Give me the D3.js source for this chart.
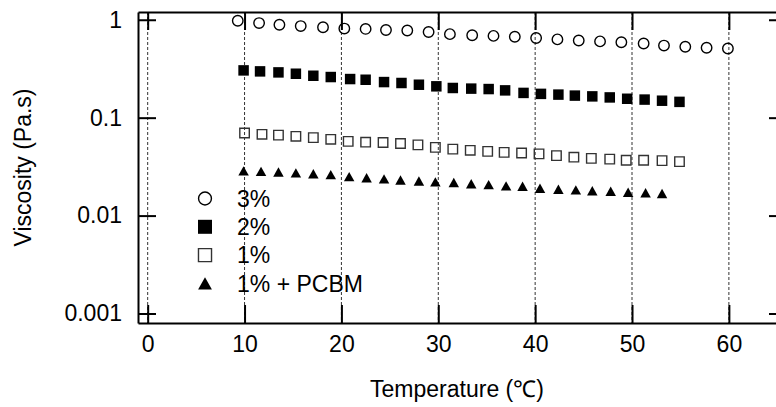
<!DOCTYPE html>
<html>
<head>
<meta charset="utf-8">
<script src="https://cdn.jsdelivr.net/npm/d3@7"></script>
<style>
  html, body { margin: 0; padding: 0; background: #fff; }
  svg { display: block; }
  text { font-family: "Liberation Sans", Arial, Helvetica, sans-serif; fill: #000; }
</style>
</head>
<body>
<svg id="chart" width="776" height="407"></svg>
<script>
// Viscosity vs temperature for different concentrations
const seriesNames = ["3%", "2%", "1%", "1% + PCBM"];

const temp3 = [9.3, 11.5, 13.6, 15.8, 18.1, 20.3, 22.5, 24.6, 26.8, 29.0, 31.2, 33.5,
               35.7, 37.9, 40.1, 42.3, 44.5, 46.7, 48.9, 51.2, 53.3, 55.5, 57.7, 59.9];
const visc3 = [0.977, 0.925, 0.889, 0.862, 0.839, 0.813, 0.806, 0.785, 0.776, 0.749, 0.713, 0.695,
               0.684, 0.671, 0.651, 0.630, 0.614, 0.601, 0.589, 0.572, 0.545, 0.530, 0.518, 0.509];

const temp2 = [9.9, 11.6, 13.5, 15.3, 17.1, 18.9, 20.9, 22.5, 24.4, 26.2, 28.0, 29.8, 31.5,
               33.4, 35.2, 36.9, 38.8, 40.6, 42.4, 44.1, 45.9, 47.7, 49.5, 51.3, 53.1, 54.9];
const visc2 = [0.304, 0.297, 0.290, 0.281, 0.268, 0.260, 0.248, 0.244, 0.231, 0.226, 0.217, 0.209, 0.201,
               0.198, 0.196, 0.190, 0.179, 0.175, 0.172, 0.168, 0.165, 0.161, 0.156, 0.153, 0.149, 0.145];

const temp1 = [10.0, 11.8, 13.5, 15.3, 17.1, 18.9, 20.7, 22.5, 24.3, 26.1, 27.9, 29.7, 31.5,
               33.3, 35.1, 36.8, 38.6, 40.4, 42.2, 44.0, 45.8, 47.7, 49.4, 51.2, 53.1, 54.9];
const visc1 = [0.0698, 0.0676, 0.0663, 0.0645, 0.0625, 0.0601, 0.0573, 0.0562, 0.0558, 0.0545, 0.0528, 0.0497, 0.0477,
               0.0464, 0.0453, 0.0442, 0.0436, 0.0427, 0.0410, 0.0395, 0.0384, 0.0377, 0.0368, 0.0368, 0.0364, 0.0356];

const tempP = [9.9, 11.7, 13.5, 15.3, 17.1, 18.9, 20.8, 22.6, 24.4, 26.1, 28.0, 29.7, 31.6,
               33.4, 35.2, 37.0, 38.7, 40.5, 42.4, 44.2, 45.9, 47.8, 49.6, 51.4, 53.1];
const viscP = [0.0286, 0.0283, 0.0279, 0.0273, 0.0268, 0.0262, 0.0250, 0.0244, 0.0237, 0.0231, 0.0226, 0.0221, 0.0218,
               0.0211, 0.0207, 0.0201, 0.0199, 0.0190, 0.0186, 0.0183, 0.0179, 0.0177, 0.0173, 0.0171, 0.0168];

const xTicks = [0, 10, 20, 30, 40, 50, 60];
const yTicks = [0.001, 0.01, 0.1, 1];
const yTickLabels = ["0.001", "0.01", "0.1", "1"];

const svg = d3.select("#chart");
const plotLeft = 138, plotTop = 12, plotBottom = 323, plotRight = 787;
const tickLen = 18;
const fontSize = 23;

const x = d3.scaleLinear().domain([-1, 66]).range([plotLeft, plotRight]);
const y = d3.scaleLog().domain([0.0008, 1.2]).range([plotBottom, plotTop]);

// dashed vertical grid
svg.append("g").selectAll("line").data(xTicks).join("line")
  .attr("x1", d => x(d)).attr("x2", d => x(d))
  .attr("y1", plotTop).attr("y2", plotBottom)
  .attr("stroke", "#333").attr("stroke-width", 1)
  .attr("stroke-dasharray", "3,2");

// axes with inward ticks
function styleAxis(g) {
  g.select(".domain").attr("stroke", "#000").attr("stroke-width", 2);
  g.selectAll(".tick line").attr("stroke", "#000").attr("stroke-width", 2);
  g.selectAll("text").attr("font-size", fontSize).attr("font-family", "Liberation Sans, Arial, sans-serif").attr("fill", "#000");
}

svg.append("g").attr("transform", `translate(0,${plotBottom})`)
  .call(d3.axisBottom(x).tickValues(xTicks).tickSizeInner(-tickLen).tickSizeOuter(0).tickPadding(13))
  .call(styleAxis);

svg.append("g").attr("transform", `translate(0,${plotTop})`)
  .call(d3.axisTop(x).tickValues(xTicks).tickSizeInner(-tickLen).tickSizeOuter(0).tickFormat(""))
  .call(styleAxis);

svg.append("g").attr("transform", `translate(${plotLeft},0)`)
  .call(d3.axisLeft(y).tickValues(yTicks).tickFormat((d, i) => yTickLabels[i])
        .tickSizeInner(-tickLen).tickSizeOuter(0).tickPadding(16))
  .call(styleAxis);

svg.append("g").attr("transform", `translate(${plotRight},0)`)
  .call(d3.axisRight(y).tickValues(yTicks).tickFormat("").tickSizeInner(-tickLen).tickSizeOuter(0))
  .call(styleAxis);

// axis titles
svg.append("text")
  .attr("x", 457).attr("y", 397)
  .attr("text-anchor", "middle").attr("font-size", fontSize)
  .text("Temperature (\u2103)");

svg.append("text")
  .attr("transform", `translate(31,${(plotTop + plotBottom) / 2}) rotate(-90)`)
  .attr("text-anchor", "middle").attr("font-size", fontSize)
  .text("Viscosity (Pa.s)");

// marker shapes
const triangleUp = {
  draw(ctx, size) {
    const w = Math.sqrt(size), h = w * 0.9;
    ctx.moveTo(0, -h / 2);
    ctx.lineTo(w / 2, h / 2);
    ctx.lineTo(-w / 2, h / 2);
    ctx.closePath();
  }
};

const styles = [
  { type: d3.symbolCircle, size: 86, lsize: 130, fill: "none", stroke: "#000", sw: 1.4 },
  { type: d3.symbolSquare, size: 110, lsize: 196, fill: "#000", stroke: "none", sw: 0 },
  { type: d3.symbolSquare, size: 90, lsize: 170, fill: "none", stroke: "#333", sw: 1.4 },
  { type: triangleUp, size: 110, lsize: 190, fill: "#000", stroke: "none", sw: 0 }
];

const series = [
  { t: temp3, v: visc3 },
  { t: temp2, v: visc2 },
  { t: temp1, v: visc1 },
  { t: tempP, v: viscP }
];

series.forEach((s, i) => {
  const st = styles[i];
  const pts = s.t.map((t, j) => [t, s.v[j]]);
  svg.append("g").selectAll("path").data(pts).join("path")
    .attr("transform", d => `translate(${x(d[0])},${y(d[1])})`)
    .attr("d", d3.symbol().type(st.type).size(st.size))
    .attr("fill", st.fill).attr("stroke", st.stroke).attr("stroke-width", st.sw);
});

// legend
const legend = svg.append("g");
seriesNames.forEach((name, i) => {
  const st = styles[i];
  const ly = 198.5 + i * 28.3;
  legend.append("path")
    .attr("transform", `translate(205,${ly})`)
    .attr("d", d3.symbol().type(st.type).size(st.lsize))
    .attr("fill", st.fill).attr("stroke", st.stroke).attr("stroke-width", st.sw);
  legend.append("text")
    .attr("x", 237).attr("y", ly).attr("dy", "0.36em")
    .attr("font-size", fontSize)
    .text(name);
});
</script>
</body>
</html>
